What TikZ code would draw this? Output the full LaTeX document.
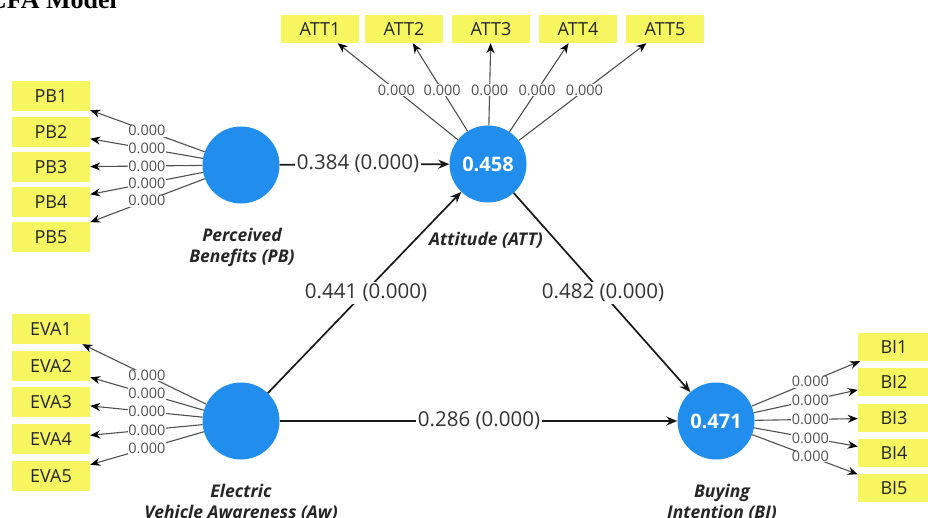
\documentclass[tikz,border=0pt]{standalone}
\usepackage{fontspec}
\setmainfont{Open Sans}
\newfontfamily\titlefont{Liberation Serif}
\usetikzlibrary{arrows.meta,calc}
\definecolor{lvblue}{RGB}{33,141,236}
\definecolor{indyellow}{RGB}{246,246,96}
\definecolor{mline}{RGB}{80,80,80}
\tikzset{
  latent/.style={circle,fill=lvblue,minimum size=77pt,inner sep=0pt,text=white,
    font=\fontsize{20}{24}\selectfont\bfseries},
  indbox/.style={fill=indyellow,minimum width=78pt,minimum height=30pt,inner sep=0pt,
    text=black!85,font=\fontsize{18}{21}\selectfont},
  indboxs/.style={indbox,minimum height=28pt},
  meas/.style={draw=mline,line width=1.1pt,-{Stealth[length=10pt,width=8pt,color=black]}},
  struct/.style={draw=black!90,line width=1.7pt,-{Stealth[length=11pt,width=9pt]}},
  loadlabel/.style={fill=white,inner sep=0.6pt,text=mline,font=\fontsize{14.5}{17}\selectfont},
  pathlabel/.style={fill=white,inner sep=2pt,text=black!80,font=\fontsize{20.5}{24}\selectfont},
  lvname/.style={align=center,text=black!85,font=\fontsize{17.5}{21}\selectfont\bfseries\itshape},
}
\begin{document}
\begin{tikzpicture}[x=1pt,y=-1pt]
\useasboundingbox (0,0) rectangle (928,518);
\fill[white] (0,0) rectangle (928,518);

% title
\node[anchor=base west,inner sep=0pt,font=\titlefont\bfseries\fontsize{26}{30}\selectfont] (title) at (-12,9) {CFA Model};

% latent variables
\node[latent] (pb) at (241,165) {};
\node[latent] (att) at (488,164) {0.458};
\node[latent] (eva) at (241,421) {};
\node[latent] (bi) at (716,421) {0.471};

% indicators
\foreach \i/\y in {1/96,2/132,3/167,4/202,5/237}
  \node[indbox] (pb\i) at (51,\y) {PB\i};
\foreach \i/\y in {1/329,2/366,3/402,4/439,5/476}
  \node[indbox] (eva\i) at (51,\y) {EVA\i};
\foreach \i/\x in {1/320,2/404,3/491,4/578,5/665}
  \node[indboxs] (att\i) at (\x,29) {ATT\i};
\foreach \i/\y in {1/347,2/382,3/418,4/453,5/488}
  \node[indboxs,minimum width=72pt] (bi\i) at (894,\y) {BI\i};

% measurement arrows
\foreach \i in {1,...,5}{
  \draw[meas] (pb) -- (pb\i);
  \draw[meas] (eva) -- (eva\i);
  \draw[meas] (att) -- (att\i);
  \draw[meas] (bi) -- (bi\i);
}
% loading labels
\foreach \i in {1,...,5}{
  \node[loadlabel] (pbl\i) at ($(pb)!0.495!(pb\i)$) {0.000};
  \node[loadlabel] (eval\i) at ($(eva)!0.495!(eva\i)$) {0.000};
  \node[loadlabel] (attl\i) at ($(att)!0.545!(att\i)$) {0.000};
  \node[loadlabel] (bil\i) at ($(bi)!0.53!(bi\i)$) {0.000};
}

% structural paths
\draw[struct] (pb) -- (att);
\draw[struct] (eva) -- (att);
\draw[struct] (att) -- (bi);
\draw[struct] (eva) -- (bi);
\node[pathlabel] (p1) at (358,164) {0.384 (0.000)};
\node[pathlabel] (p2) at (366,293) {0.441 (0.000)};
\node[pathlabel] (p3) at (603,293) {0.482 (0.000)};
\node[pathlabel] (p4) at (479,421) {0.286 (0.000)};

% latent names
\node[lvname] (pbname) at (242,247) {Perceived\\Benefits (PB)};
\node[lvname] (attname) at (486,240) {Attitude (ATT)};
\node[lvname] (evaname) at (241,503) {Electric\\Vehicle Awareness (Aw)};
\node[lvname] (biname) at (722,503) {Buying\\Intention (BI)};
\end{tikzpicture}
\end{document}
